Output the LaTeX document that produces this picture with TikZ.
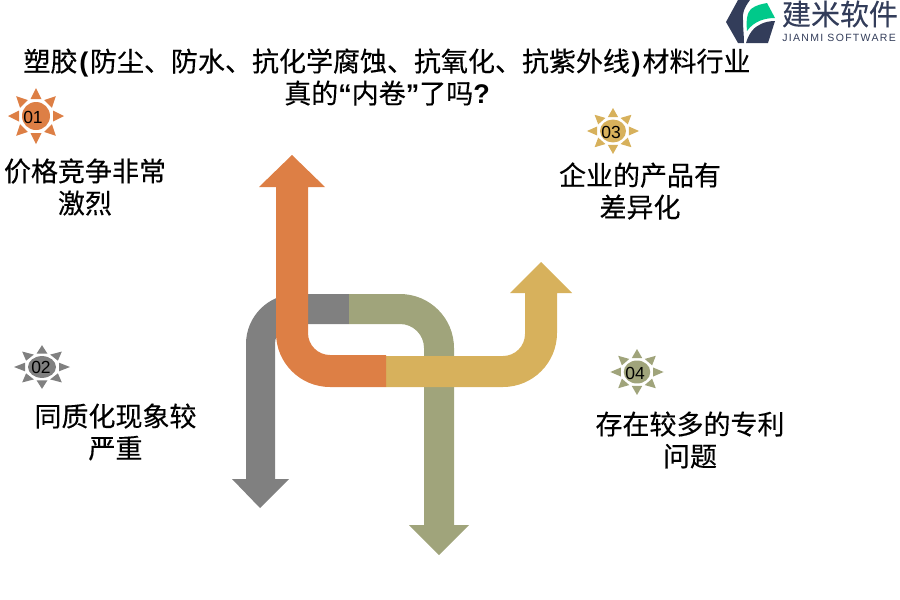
\documentclass[tikz,border=0pt]{standalone}
\usepackage{fontspec}
\setmainfont{Liberation Sans}
\newfontfamily\cjkfont[FakeBold=0.25]{Noto Sans CJK SC}
\newfontfamily\logofont[FakeBold=0.2]{Noto Sans CJK SC}
\newfontfamily\subfont[LetterSpace=12.5]{Liberation Sans}
\newfontfamily\markfont{Liberation Sans}
\newcommand{\marktext}[1]{{\markfont\bfseries #1}}
\usepackage{xcolor}
\usetikzlibrary{positioning}
\definecolor{sunorange}{HTML}{DD7F45}
\definecolor{sungray}{HTML}{808080}
\definecolor{sunyellow}{HTML}{D7B15C}
\definecolor{sunolive}{HTML}{A0A47B}
\definecolor{logodark}{HTML}{333D5A}
\definecolor{logogreen}{HTML}{00C98A}
\begin{document}
\begin{tikzpicture}[
  x=1pt, y=-1pt,
  label/.style={align=center, font=\cjkfont\fontsize{27}{32}\selectfont, inner sep=0pt},
  badge/.style={font=\fontsize{17.5}{18}\selectfont, text=black, inner sep=0pt},
  pics/sunburst/.style={code={
    \fill[#1] (0,0) circle[radius=14];
    \foreach \a in {0,45,...,315}
      \fill[#1, rotate=\a] (17,-5.5) -- (28,0) -- (17,5.5) -- cycle;
  }}
]
\useasboundingbox (0,0) rectangle (900,600);

\fill[sungray] (349,294) -- (296,294) arc[start angle=-90, end angle=-180, radius=50] -- (246,479) -- (232,479) -- (260,508) -- (289,479) -- (275,479) -- (275,344) arc[start angle=180, end angle=270, radius=20] -- (349,324) -- cycle;
\fill[sunolive] (349,294) -- (400,294) arc[start angle=-90, end angle=0, radius=54] -- (454,525) -- (469,525) -- (439,555) -- (409,525) -- (424,525) -- (424,348) arc[start angle=0, end angle=-90, radius=24] -- (349,324) -- cycle;
\fill[sunyellow] (386,356) -- (503,356) arc[start angle=90, end angle=0, radius=22] -- (525,293) -- (510,293) -- (541,262) -- (572,293) -- (557,293) -- (557,333) arc[start angle=0, end angle=90, radius=54] -- (386,387) -- cycle;
\fill[sunorange] (386,355) -- (330,355) arc[start angle=90, end angle=180, radius=22] -- (308,187) -- (325,187) -- (292,155) -- (259,187) -- (276,187) -- (276,333) arc[start angle=180, end angle=90, radius=54] -- (386,387) -- cycle;

\node[label] (title) at (387,77) {塑胶\hspace{1.75pt}\marktext{(}\hspace{1.75pt}防尘、防水、抗化学腐蚀、抗氧化、抗紫外线\hspace{1.75pt}\marktext{)}\hspace{1.75pt}材料行业\\真的\marktext{“}内卷\marktext{”}了吗\marktext{?}};

\pic at (36,116) {sunburst=sunorange};
\node[badge] (b1) at (33,117) {01};
\node[label] (t1) at (85,187) {价格竞争非常\\激烈};

\pic[yscale=0.78] at (42,367) {sunburst=sungray};
\node[badge] (b2) at (41,367) {02};
\node[label] (t2) at (115.5,432) {同质化现象较\\严重};

\pic[xscale=0.93, yscale=0.82] at (613,131) {sunburst=sunyellow};
\node[badge] (b3) at (611,132) {03};
\node[label] (t3) at (640,191) {企业的产品有\\差异化};

\pic[xscale=0.95, yscale=0.82] at (637,372) {sunburst=sunolive};
\node[badge] (b4) at (635,373) {04};
\node[label] (t4) at (690,440) {存在较多的专利\\问题};

\fill[logodark] (726,22) -- (738,0) -- (750,0) .. controls (744,8) and (742,14) .. (743,20) .. controls (743,28) and (744,36) .. (744,43) -- (738,43) -- cycle;
\fill[logogreen] (747,31) .. controls (746,20) and (747,13) .. (751,9) .. controls (756,5) and (762,4) .. (767,3) -- (775,18) .. controls (765,18) and (754,21) .. (747,31) -- cycle;
\fill[logodark] (746,43) .. controls (749,33) and (754,27) .. (761,24) .. controls (765,22) and (770,21) .. (775,21) -- (768,43) -- cycle;
\node[inner sep=0pt, text=logodark, font=\logofont\fontsize{29}{29}\selectfont] (brand) at (840,14) {建米软件};
\node[inner sep=0pt, text=logodark, font=\subfont\fontsize{10.5}{11}\selectfont] (brandsub) at (839,38) {JIANMI SOFTWARE};
\end{tikzpicture}
\end{document}
